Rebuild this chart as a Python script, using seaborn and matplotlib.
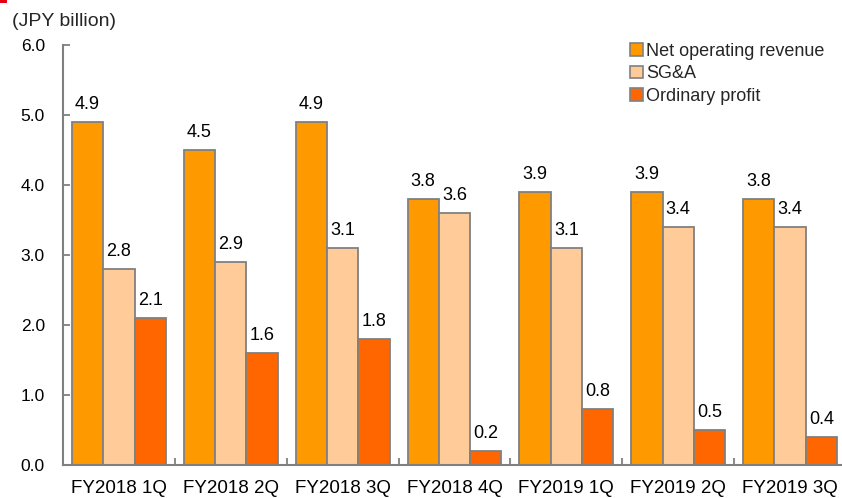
import matplotlib
matplotlib.use("Agg")
import matplotlib.pyplot as plt
import seaborn as sns
import pandas as pd
from matplotlib.patches import Patch, Rectangle
from matplotlib.ticker import FixedLocator, MultipleLocator

categories = ["FY2018 1Q", "FY2018 2Q", "FY2018 3Q", "FY2018 4Q",
              "FY2019 1Q", "FY2019 2Q", "FY2019 3Q"]
series_names = ["Net operating revenue", "SG&A", "Ordinary profit"]
net_revenue = [4.9, 4.5, 4.9, 3.8, 3.9, 3.9, 3.8]
sga = [2.8, 2.9, 3.1, 3.6, 3.1, 3.4, 3.4]
ordinary_profit = [2.1, 1.6, 1.8, 0.2, 0.8, 0.5, 0.4]
colors = ["#FF9900", "#FFCC99", "#FF6600"]

rows = []
for name, vals in zip(series_names, [net_revenue, sga, ordinary_profit]):
    for c, v in zip(categories, vals):
        rows.append({"Quarter": c, "Series": name, "Value": v})
df = pd.DataFrame(rows)

sns.set_theme(style="white")
plt.rcParams["font.family"] = ["Liberation Sans", "DejaVu Sans"]

fig = plt.figure(figsize=(8.42, 4.98), dpi=100)
ax = fig.add_axes([63 / 842, 33 / 498, 783 / 842, 420 / 498])

sns.barplot(data=df, x="Quarter", y="Value", hue="Series", order=categories,
            hue_order=series_names, palette=colors, width=0.84,
            edgecolor="#808080", linewidth=1.3, saturation=1, ax=ax,
            legend=False)

for cont in ax.containers:
    ax.bar_label(cont, fmt="%.1f", padding=6.5, fontsize=13, color="black")

ax.set_ylim(0, 6)
ax.set_xlim(-0.5, len(categories) - 0.5)
ax.yaxis.set_major_locator(MultipleLocator(1.0))
ax.set_yticklabels([f"{t:.1f}" for t in ax.get_yticks()])
ax.set_xlabel("")
ax.set_ylabel("")

ax.xaxis.set_minor_locator(FixedLocator([i - 0.5 for i in range(len(categories) + 1)]))
ax.tick_params(axis="x", which="major", length=0, pad=11, labelsize=13.5, colors="black")
ax.tick_params(axis="x", which="minor", direction="in", length=5, width=1.3, color="#808080", bottom=True)
ax.tick_params(axis="y", which="major", direction="in", length=5, width=1.3, color="#808080",
               pad=13, labelsize=12.5, labelcolor="black", left=True)

for s in ["top", "right"]:
    ax.spines[s].set_visible(False)
for s in ["left", "bottom"]:
    ax.spines[s].set_color("#808080")
    ax.spines[s].set_linewidth(1.5)

handles = [Patch(facecolor=c, edgecolor="#808080", linewidth=1.2) for c in colors]
fig.legend(handles, series_names, loc="upper left",
           bbox_to_anchor=(630 / 842, 1 - 43 / 498), frameon=False, fontsize=13,
           handlelength=0.7, handleheight=0.7, handletextpad=0.2,
           labelspacing=0.3, borderpad=0, borderaxespad=0)

fig.text(12 / 842, 1 - 22 / 498, "(JPY billion)", fontsize=14, va="center", ha="left")
fig.patches.append(Rectangle((0, 1 - 3 / 498), 7 / 842, 3 / 498, transform=fig.transFigure,
                             facecolor="#E60012", edgecolor="none"))

fig.savefig("out.png", dpi=100)
